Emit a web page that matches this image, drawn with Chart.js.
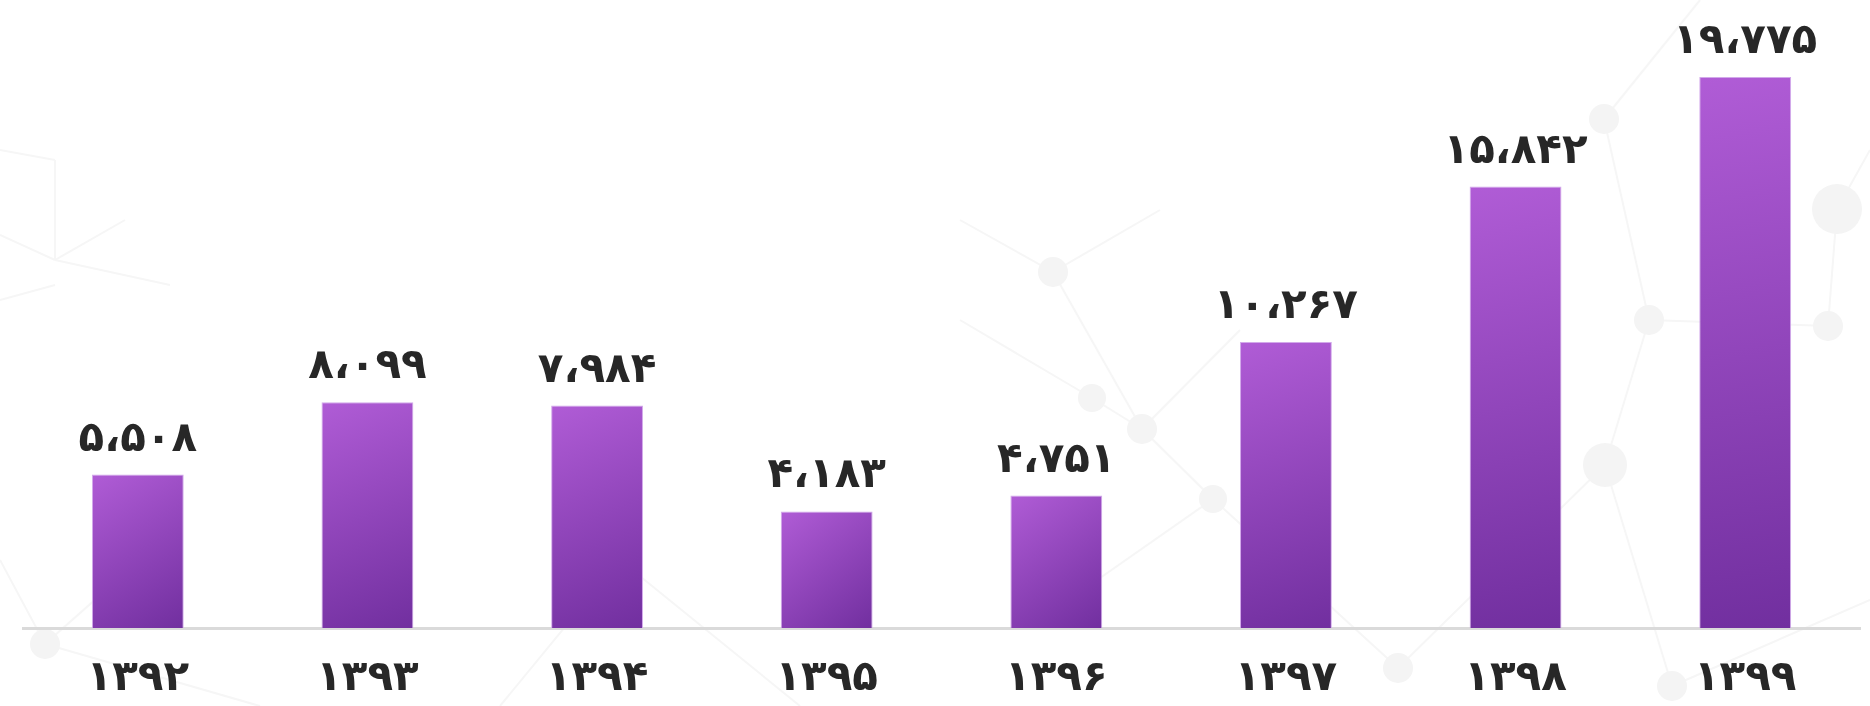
<!DOCTYPE html>
<html lang="fa">
<head>
  <meta charset="UTF-8">
  <title>نمودار سالانه</title>
  <style>
    html, body {
      margin: 0;
      padding: 0;
      background: #ffffff;
      overflow: hidden;
    }

    #wrap {
      position: relative;
      width: 1870px;
      height: 706px;
    }

    #bg {
      position: absolute;
      left: 0;
      top: 0;
    }

    canvas {
      position: absolute;
      left: 0;
      top: 0;
    }
  </style>
</head>
<body>
  <div id="wrap">
    <!-- faint network pattern behind the chart -->
    <svg id="bg" width="1870" height="706">
      <g stroke="#f6f6f6" stroke-width="2" fill="none">
        <line x1="0" y1="150" x2="55" y2="160"/>
        <line x1="55" y1="160" x2="55" y2="260"/>
        <line x1="0" y1="235" x2="55" y2="260"/>
        <line x1="55" y1="260" x2="170" y2="285"/>
        <line x1="55" y1="260" x2="125" y2="220"/>
        <line x1="0" y1="300" x2="55" y2="285"/>
        <line x1="45" y1="644" x2="0" y2="560"/>
        <line x1="45" y1="644" x2="260" y2="706"/>
        <line x1="45" y1="644" x2="140" y2="560"/>
        <line x1="1053" y1="272" x2="1142" y2="429"/>
        <line x1="1053" y1="272" x2="960" y2="220"/>
        <line x1="1053" y1="272" x2="1160" y2="210"/>
        <line x1="1092" y1="398" x2="1142" y2="429"/>
        <line x1="1092" y1="398" x2="960" y2="320"/>
        <line x1="1142" y1="429" x2="1213" y2="499"/>
        <line x1="1142" y1="429" x2="1240" y2="330"/>
        <line x1="1213" y1="499" x2="1398" y2="668"/>
        <line x1="1213" y1="499" x2="1040" y2="620"/>
        <line x1="1605" y1="465" x2="1672" y2="686"/>
        <line x1="1605" y1="465" x2="1398" y2="668"/>
        <line x1="1605" y1="465" x2="1649" y2="320"/>
        <line x1="1649" y1="320" x2="1828" y2="326"/>
        <line x1="1649" y1="320" x2="1604" y2="119"/>
        <line x1="1828" y1="326" x2="1837" y2="209"/>
        <line x1="1837" y1="209" x2="1870" y2="150"/>
        <line x1="1604" y1="119" x2="1700" y2="0"/>
        <line x1="1672" y1="686" x2="1870" y2="600"/>
        <line x1="500" y1="706" x2="620" y2="560"/>
        <line x1="620" y1="560" x2="800" y2="706"/>
      </g>
      <g fill="#f4f4f4">
        <circle cx="45" cy="644" r="15"/>
        <circle cx="1053" cy="272" r="15"/>
        <circle cx="1092" cy="398" r="14"/>
        <circle cx="1142" cy="429" r="15"/>
        <circle cx="1213" cy="499" r="14"/>
        <circle cx="1398" cy="668" r="15"/>
        <circle cx="1605" cy="465" r="22"/>
        <circle cx="1649" cy="320" r="15"/>
        <circle cx="1828" cy="326" r="15"/>
        <circle cx="1837" cy="209" r="25"/>
        <circle cx="1604" cy="119" r="15"/>
        <circle cx="1672" cy="686" r="15"/>
      </g>
    </svg>
    <canvas id="barChart" width="1870" height="706"></canvas>
  </div>

  <script src="https://cdn.jsdelivr.net/npm/chart.js"></script>
  <script>
    // سال‌ها و مقادیر
    const years = ['۱۳۹۲', '۱۳۹۳', '۱۳۹۴', '۱۳۹۵', '۱۳۹۶', '۱۳۹۷', '۱۳۹۸', '۱۳۹۹'];
    const values = [5508, 8099, 7984, 4183, 4751, 10267, 15842, 19775];

    const faDigits = '۰۱۲۳۴۵۶۷۸۹';

    // 19775 -> ۱۹،۷۷۵
    function toFa(n) {
      const s = String(n).replace(/\B(?=(\d{3})+(?!\d))/g, '،');
      return s.replace(/\d/g, d => faDigits[d]);
    }

    function barGradient(ctx) {
      const chart = ctx.chart;
      const area = chart.chartArea;
      if (!area || ctx.type !== 'data') return '#9444c0';
      const x = chart.scales.x, y = chart.scales.y;
      const cx = x.getPixelForValue(ctx.dataIndex);
      const half = x.width / years.length * 0.2;
      const top = y.getPixelForValue(ctx.raw);
      const bottom = y.getPixelForValue(0);
      const g = chart.ctx.createLinearGradient(cx - half, top, cx + half, bottom);
      g.addColorStop(0, '#b05cd6');
      g.addColorStop(1, '#712f9f');
      return g;
    }

    // اعداد بالای ستون‌ها
    const valueLabels = {
      id: 'valueLabels',
      afterDatasetsDraw(chart) {
        const c = chart.ctx;
        const meta = chart.getDatasetMeta(0);
        c.save();
        c.font = 'bold 42px "DejaVu Sans"';
        c.fillStyle = '#272727';
        c.textAlign = 'center';
        c.textBaseline = 'alphabetic';
        meta.data.forEach((bar, i) => {
          c.fillText(toFa(values[i]), bar.x, bar.y - 24);
        });
        c.restore();
      }
    };

    new Chart(document.getElementById('barChart'), {
      type: 'bar',
      data: {
        labels: years,
        datasets: [{
          data: values,
          backgroundColor: barGradient,
          borderColor: 'rgba(205, 160, 232, 0.9)',
          borderWidth: 1,
          barPercentage: 0.4,
          categoryPercentage: 1
        }]
      },
      options: {
        responsive: false,
        animation: false,
        layout: {
          padding: { left: 23, right: 10, top: 15, bottom: 0 }
        },
        plugins: {
          legend: { display: false },
          tooltip: { enabled: false }
        },
        scales: {
          x: {
            afterFit(scale) { scale.height = 78; },
            grid: { display: false, drawTicks: false },
            border: { display: true, color: '#dadada', width: 3 },
            ticks: {
              color: '#272727',
              padding: 30,
              font: { family: 'DejaVu Sans', size: 42, weight: 'bold', lineHeight: 1 }
            }
          },
          y: {
            display: false,
            min: 0,
            max: 22000
          }
        }
      },
      plugins: [valueLabels]
    });
  </script>
</body>
</html>
